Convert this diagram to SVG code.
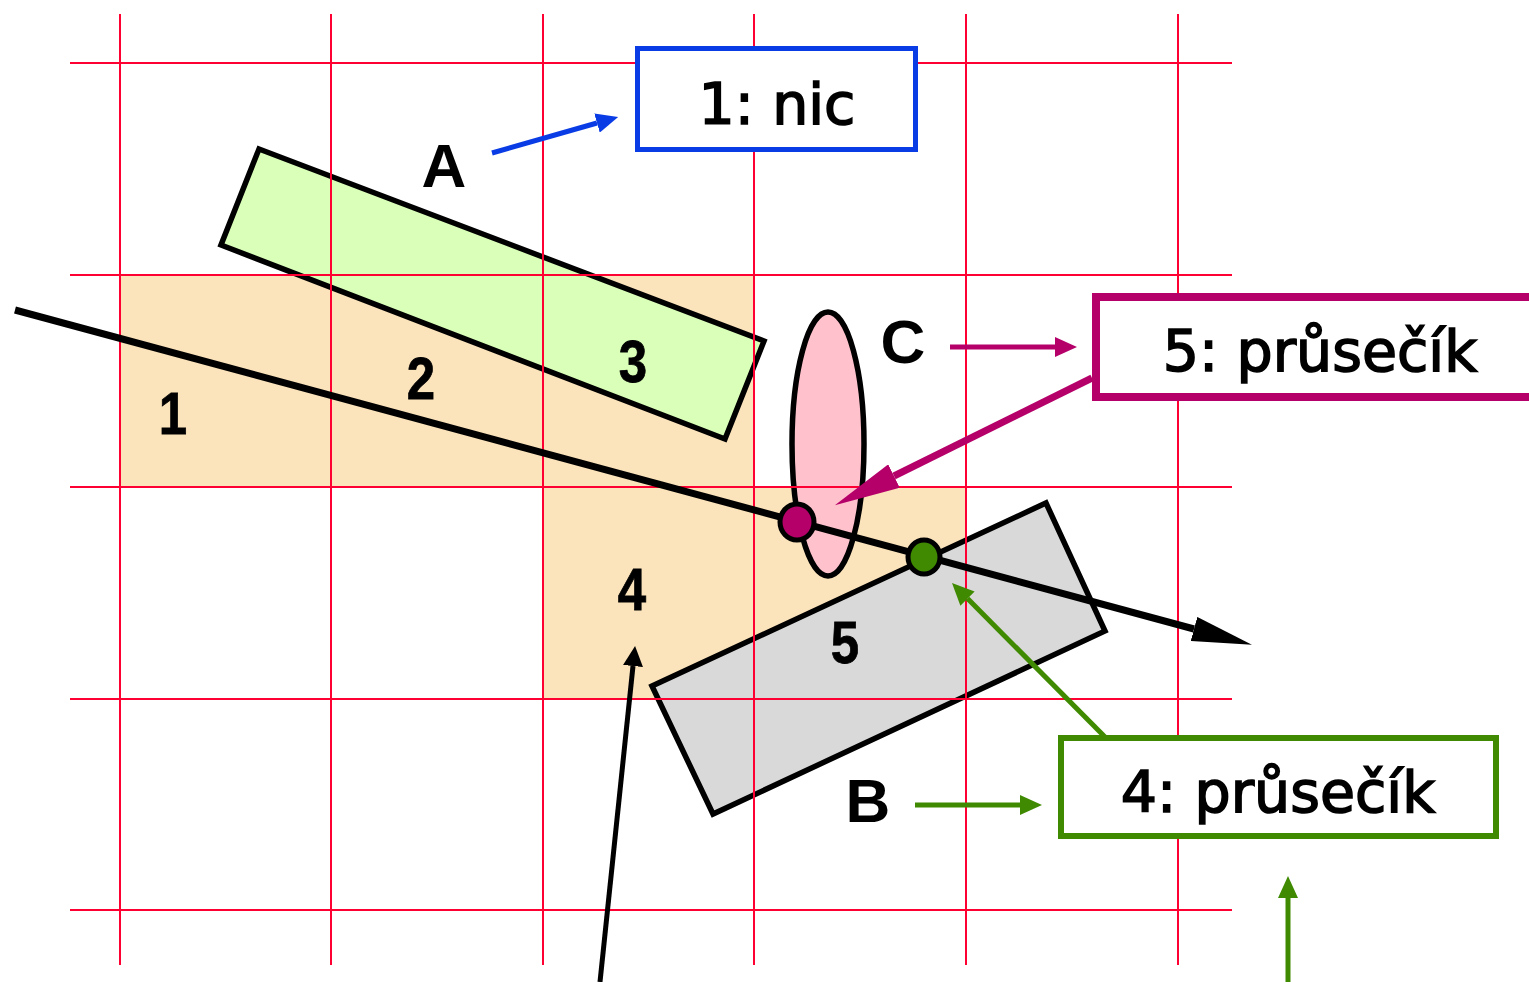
<svg xmlns="http://www.w3.org/2000/svg" width="1529" height="982" viewBox="0 0 1529 982">
<style>
.grid{stroke:#ff0033;stroke-width:2;fill:none}
.shape{stroke:#000;stroke-width:5.5;stroke-linejoin:miter}
.num{font-family:"Liberation Sans",Arial,sans-serif;font-weight:bold;font-size:60px;fill:#000;stroke:#000;stroke-width:0.8;text-anchor:middle}
.lbl{font-family:"Liberation Sans",Arial,sans-serif;font-weight:bold;font-size:62px;fill:#000;text-anchor:middle}
.box{fill:#fff}
.btxt{font-family:"DejaVu Sans",Verdana,sans-serif;font-size:57px;fill:#000;stroke:#000;stroke-width:1.6;text-anchor:middle}
.blue{stroke:#0a3ce6;stroke-width:5;fill:none}
.purple{stroke:#b5006a;stroke-width:5;fill:none}
.purpleThick{stroke:#b5006a;stroke-width:7;fill:none}
.green{stroke:#3f8a00;stroke-width:5;fill:none}
.black{stroke:#000;stroke-width:5;fill:none}
.blackThick{stroke:#000;stroke-width:7;fill:none}
</style>
<defs>
<marker id="hBlue" viewBox="0 0 10 10" refX="0" refY="5" markerUnits="userSpaceOnUse" markerWidth="22" markerHeight="20" orient="auto" preserveAspectRatio="none"><path d="M0,0 L10,5 L0,10 z" fill="#0a3ce6"/></marker>
<marker id="hPurple" viewBox="0 0 10 10" refX="0" refY="5" markerUnits="userSpaceOnUse" markerWidth="22" markerHeight="20" orient="auto" preserveAspectRatio="none"><path d="M0,0 L10,5 L0,10 z" fill="#b5006a"/></marker>
<marker id="hPurpleBig" viewBox="0 0 10 10" refX="0" refY="5" markerUnits="userSpaceOnUse" markerWidth="66" markerHeight="26" orient="auto" preserveAspectRatio="none"><path d="M0,0 L10,5 L0,10 z" fill="#b5006a"/></marker>
<marker id="hGreen" viewBox="0 0 10 10" refX="0" refY="5" markerUnits="userSpaceOnUse" markerWidth="22" markerHeight="20" orient="auto" preserveAspectRatio="none"><path d="M0,0 L10,5 L0,10 z" fill="#3f8a00"/></marker>
<marker id="hBlack" viewBox="0 0 10 10" refX="0" refY="5" markerUnits="userSpaceOnUse" markerWidth="20" markerHeight="20" orient="auto" preserveAspectRatio="none"><path d="M0,0 L10,5 L0,10 z" fill="#000"/></marker>
<marker id="hBlackBig" viewBox="0 0 10 10" refX="0" refY="5" markerUnits="userSpaceOnUse" markerWidth="60" markerHeight="25" orient="auto" preserveAspectRatio="none"><path d="M0,0 L10,5 L0,10 z" fill="#000"/></marker>
</defs>

<g id="cells">
<rect x="120" y="275" width="634" height="212" fill="#fbe3bb"/>
<rect x="543" y="487" width="423" height="212" fill="#fbe3bb"/>
</g>

<g id="objA">
<polygon class="shape" points="259,149 764,341 725,439 221,245" fill="#d9ffb8"/>
</g>

<g id="objB">
<polygon class="shape" points="652,686 1046,503 1105,631 713,814" fill="#d9d9d9"/>
</g>

<g id="objC">
<ellipse class="shape" cx="828" cy="444" rx="36" ry="132" fill="#ffc2cc"/>
</g>

<g id="grid" class="grid">
<line x1="120" y1="14" x2="120" y2="965"/>
<line x1="331" y1="14" x2="331" y2="965"/>
<line x1="543" y1="14" x2="543" y2="965"/>
<line x1="754" y1="14" x2="754" y2="965"/>
<line x1="966" y1="14" x2="966" y2="965"/>
<line x1="1178" y1="14" x2="1178" y2="965"/>
<line x1="70" y1="63" x2="1232" y2="63"/>
<line x1="70" y1="275" x2="1232" y2="275"/>
<line x1="70" y1="487" x2="1232" y2="487"/>
<line x1="70" y1="699" x2="1232" y2="699"/>
<line x1="70" y1="910" x2="1232" y2="910"/>
</g>

<g id="cell-numbers">
<text class="num" transform="translate(173,434) scale(0.85,1)">1</text>
<text class="num" transform="translate(421,399) scale(0.85,1)">2</text>
<text class="num" transform="translate(633,382) scale(0.85,1)">3</text>
<text class="num" transform="translate(632,610) scale(0.85,1)">4</text>
<text class="num" transform="translate(845,663) scale(0.85,1)">5</text>
</g>

<g id="labels">
<text class="lbl" x="444" y="187">A</text>
<text class="lbl" x="868" y="822">B</text>
<text class="lbl" x="903" y="363">C</text>
</g>

<g id="box1">
<rect class="box" x="637.5" y="48.5" width="278" height="101" stroke="#0a3ce6" stroke-width="5"/>
<text class="btxt" x="777" y="124">1: nic</text>
</g>

<g id="box5">
<rect class="box" x="1096" y="297" width="440" height="100" stroke="#b5006a" stroke-width="8"/>
<text class="btxt" x="1320" y="371">5: průsečík</text>
</g>

<g id="box4">
<rect class="box" x="1061" y="738" width="435" height="98" stroke="#3f8a00" stroke-width="6"/>
<text class="btxt" x="1278" y="812">4: průsečík</text>
</g>

<g id="connectors">
<line class="blackThick" x1="15" y1="310" x2="1194" y2="629" marker-end="url(#hBlackBig)"/>
<line class="black" x1="600" y1="982" x2="633" y2="666" marker-end="url(#hBlack)"/>
<line class="blue" x1="492" y1="153" x2="597" y2="123" marker-end="url(#hBlue)"/>
<line class="purple" x1="950" y1="347" x2="1055" y2="347" marker-end="url(#hPurple)"/>
<line class="purpleThick" x1="1092" y1="378" x2="894" y2="476" marker-end="url(#hPurpleBig)"/>
<line class="green" x1="915" y1="805" x2="1020" y2="805" marker-end="url(#hGreen)"/>
<line class="green" x1="1105" y1="737" x2="967.5" y2="598.6" marker-end="url(#hGreen)"/>
<line class="green" x1="1288" y1="982" x2="1288" y2="898" marker-end="url(#hGreen)"/>
</g>

<g id="points">
<ellipse cx="797" cy="522" rx="17" ry="18" fill="#b5006a" stroke="#000" stroke-width="5"/>
<ellipse cx="924" cy="557" rx="16" ry="17" fill="#3f8a00" stroke="#000" stroke-width="5"/>
</g>
</svg>
